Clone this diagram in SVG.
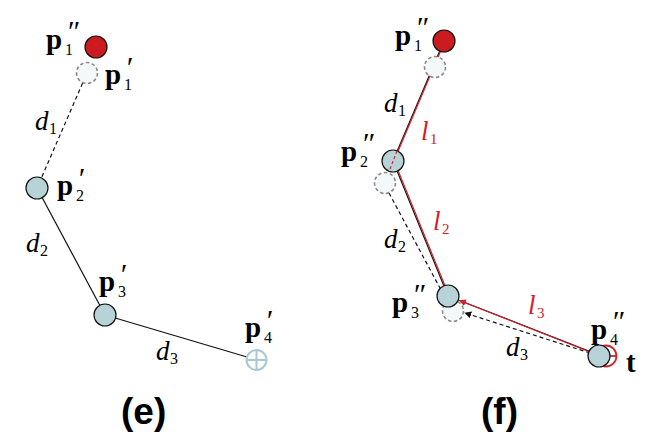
<svg xmlns="http://www.w3.org/2000/svg" width="645" height="448" viewBox="0 0 645 448">
<defs>
<style>
.node{fill:#b8d3d7;stroke:#111;stroke-width:1.2}
.red{fill:#cc1b20;stroke:#111;stroke-width:1.2}
.ghost{fill:#f3f8f9;stroke:#8a8a8a;stroke-width:1.6;stroke-dasharray:3.5,2.5}
.ln{stroke:#111;stroke-width:1.2;fill:none}
.dash{stroke:#111;stroke-width:1.2;fill:none;stroke-dasharray:4,3}
.rl{stroke:#d3202a;stroke-width:1.2;fill:none}
.p{font-family:"Liberation Serif",serif;font-weight:bold;font-size:29px;fill:#000}
.s{font-family:"Liberation Serif",serif;font-size:16px;fill:#000}
.pr{font-family:"Liberation Serif",serif;font-style:italic;font-size:30px;fill:#000}
.d{font-family:"Liberation Serif",serif;font-style:italic;font-size:27px;fill:#000}
.l{font-family:"Liberation Serif",serif;font-style:italic;font-size:27px;fill:#d3202a}
.ls{font-family:"Liberation Serif",serif;font-size:15px;fill:#d3202a}
.cap{font-family:"Liberation Sans",Arial,sans-serif;font-weight:bold;font-size:37px;fill:#000}
</style>
<marker id="ar" viewBox="0 0 10 10" refX="9" refY="5" markerWidth="7" markerHeight="7" orient="auto" markerUnits="userSpaceOnUse"><path d="M0,0 L10,5 L0,10 z" fill="#d3202a"/></marker>
<marker id="ab" viewBox="0 0 10 10" refX="9" refY="5" markerWidth="7" markerHeight="7" orient="auto" markerUnits="userSpaceOnUse"><path d="M0,0 L10,5 L0,10 z" fill="#111"/></marker>
</defs>
<rect width="645" height="448" fill="#fff"/>
<g id="connectors">
<line class="dash" x1="82.6" y1="83.1" x2="41.4" y2="177.9"/>
<line class="ln" x1="37" y1="188" x2="105" y2="315"/>
<line class="ln" x1="105" y1="315" x2="247" y2="357"/>
<line class="ln" x1="444" y1="41" x2="393" y2="161"/>
<line class="rl" x1="444.8" y1="41.3" x2="393.8" y2="161.3"/>
<line class="dash" x1="389" y1="193" x2="448" y2="303"/>
<line class="ln" x1="393" y1="161" x2="448" y2="296"/>
<line class="rl" x1="394" y1="160.6" x2="449" y2="295.6"/>
<line class="ln" x1="448" y1="296" x2="599" y2="355"/>
<line class="dash" x1="590" y1="353" x2="465" y2="313" marker-end="url(#ab)"/>
<line class="rl" x1="590" y1="352" x2="459.5" y2="300.5" marker-end="url(#ar)"/>
</g>
<g id="e-p1pp"><circle class="red" cx="96" cy="47" r="11"/></g>
<g id="e-p1p"><circle class="ghost" cx="87" cy="73" r="10.5"/></g>
<g id="e-p2p"><circle class="node" cx="37" cy="188" r="11"/></g>
<g id="e-p3p"><circle class="node" cx="105" cy="315" r="11"/></g>
<g id="e-p4p"><circle cx="256.5" cy="360" r="10" fill="#fff" stroke="#a8c9d0" stroke-width="2"/><path d="M246.5,360 H266.5 M256.5,350 V370" stroke="#a8c9d0" stroke-width="2"/></g>
<g id="f-p1p"><circle class="ghost" cx="435" cy="67" r="10.5"/></g>
<g id="f-p1pp"><circle class="red" cx="444" cy="41" r="11"/></g>
<g id="f-p2p"><circle class="ghost" cx="385" cy="183" r="10.5"/></g>
<g id="f-p2pp"><circle class="node" cx="393" cy="161" r="11"/><line x1="397" y1="151" x2="390" y2="169" stroke="#d3202a" stroke-width="1.2" stroke-dasharray="3,2.5"/></g>
<g id="f-p3p"><circle class="ghost" cx="453" cy="311" r="10.5"/></g>
<g id="f-p3pp"><circle class="node" cx="448" cy="296" r="11"/></g>
<g id="f-t"><circle cx="606" cy="356" r="10.5" fill="none" stroke="#d3202a" stroke-width="1.8"/><path d="M595.5,356 H616.5" stroke="#d3202a" stroke-width="1.8"/></g>
<g id="f-p4pp"><circle class="node" cx="599" cy="356" r="11"/></g>
<g id="labels">
<text class="p" x="46" y="49">p</text><text class="s" x="65" y="55">1</text><text class="pr" x="66" y="41">″</text>
<text class="p" x="105" y="84">p</text><text class="s" x="124" y="90">1</text><text class="pr" x="125" y="77">′</text>
<text class="d" x="35" y="130">d</text><text class="s" x="49" y="134">1</text>
<text class="p" x="57" y="195">p</text><text class="s" x="76" y="201">2</text><text class="pr" x="77" y="188">′</text>
<text class="d" x="26" y="252">d</text><text class="s" x="40" y="256">2</text>
<text class="p" x="99" y="291">p</text><text class="s" x="118" y="297">3</text><text class="pr" x="119" y="284">′</text>
<text class="p" x="245" y="337">p</text><text class="s" x="264" y="343">4</text><text class="pr" x="265" y="330">′</text>
<text class="d" x="156" y="360">d</text><text class="s" x="170" y="364">3</text>
<text class="cap" x="121" y="424">(e)</text>
<text class="p" x="395" y="45">p</text><text class="s" x="414" y="51">1</text><text class="pr" x="415" y="37">″</text>
<text class="d" x="384" y="112">d</text><text class="s" x="398" y="116">1</text>
<text class="l" x="421" y="140">l</text><text class="ls" x="430" y="144">1</text>
<text class="p" x="341" y="161">p</text><text class="s" x="360" y="167">2</text><text class="pr" x="361" y="153">″</text>
<text class="l" x="433" y="230">l</text><text class="ls" x="442" y="234">2</text>
<text class="d" x="384" y="248">d</text><text class="s" x="398" y="252">2</text>
<text class="p" x="392" y="312">p</text><text class="s" x="411" y="318">3</text><text class="pr" x="412" y="304">″</text>
<text class="l" x="528" y="314">l</text><text class="ls" x="537" y="318">3</text>
<text class="d" x="506" y="356">d</text><text class="s" x="520" y="360">3</text>
<text class="p" x="591" y="339">p</text><text class="s" x="610" y="345">4</text><text class="pr" x="611" y="331">″</text>
<text class="p" x="626" y="372">t</text>
<text class="cap" x="481" y="424">(f)</text>
</g>
</svg>
